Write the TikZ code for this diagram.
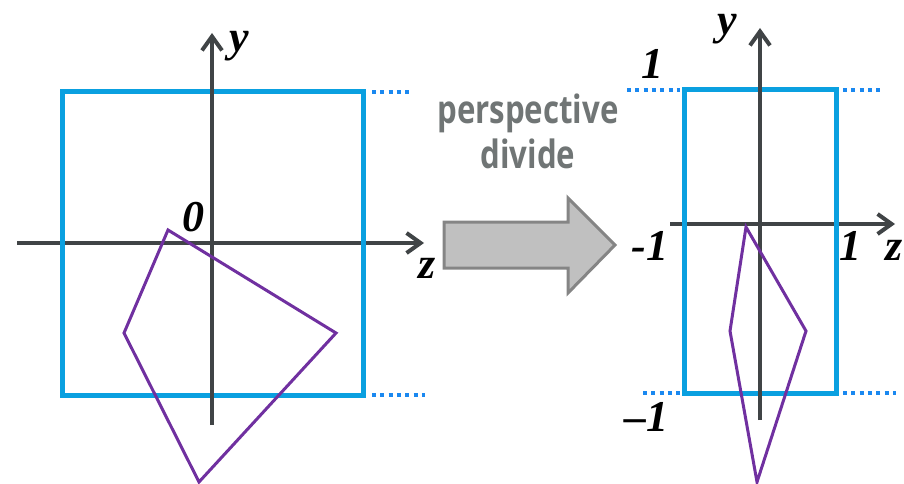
\documentclass[tikz,border=0pt]{standalone}
\usepackage{fontspec}
\setmainfont{Liberation Serif}
\newfontfamily\capfont{Open Sans}[FakeStretch=0.8]
\usetikzlibrary{arrows.meta}
\definecolor{axisgray}{HTML}{404446}
\definecolor{boxblue}{HTML}{0AA0E0}
\definecolor{dotblue}{HTML}{1A88F0}
\definecolor{quadpurple}{HTML}{7030A0}
\definecolor{capgray}{HTML}{707575}
\definecolor{arrowfill}{HTML}{C0C0C0}
\definecolor{arrowedge}{HTML}{858585}
\tikzset{
  axis/.style={draw=axisgray, line width=4pt, -{Straight Barb[length=14pt,width=20pt]}},
  clipbox/.style={draw=boxblue, line width=5pt},
  guide/.style={draw=dotblue, line width=3.5pt, dash pattern=on 4pt off 4.3pt},
  quad/.style={draw=quadpurple, line width=3pt, line join=miter},
  lab/.style={inner sep=0pt, font=\fontsize{44}{44}\selectfont\bfseries\itshape},
  blockarrow/.style={fill=arrowfill, draw=arrowedge, line width=3pt},
}
\begin{document}
\begin{tikzpicture}[x=1pt,y=-1pt]
\useasboundingbox (0,0) rectangle (904,484);
% ---------- left panel ----------
\coordinate (lzs) at (17,243);
\coordinate (lze) at (424,243);
\coordinate (lys) at (212,425);
\coordinate (lye) at (212,33);
\draw[axis] (lzs) -- (lze);
\draw[clipbox] (62,92) rectangle (363,395);
\draw[axis] (lys) -- (lye);
\coordinate (ldt1) at (372,92);
\coordinate (ldt2) at (410,92);
\coordinate (ldb1) at (372,395);
\coordinate (ldb2) at (425,395);
\draw[guide] (ldt1) -- (ldt2);
\draw[guide] (ldb1) -- (ldb2);
\coordinate (lqa) at (168,230);
\coordinate (lqb) at (336,333);
\coordinate (lqc) at (199,482);
\coordinate (lqd) at (124,333);
\draw[quad] (lqa) -- (lqb) -- (lqc) -- (lqd) -- cycle;
\node[lab] (ly) at (239,46) {y};
\node[lab] (lz) at (427,268) {z};
\node[lab] (lo) at (193,217) {0};
% ---------- arrow and caption ----------
\draw[blockarrow] (444,222) -- (568,222) -- (568,198) -- (615,245) -- (568,293) -- (568,268) -- (444,268) -- cycle;
\node[text=capgray, font=\capfont\fontsize{39}{45}\selectfont\bfseries, align=center, inner sep=0pt] (cap) at (528,131) {perspective\\divide};
% ---------- right panel ----------
\coordinate (rzs) at (670,224);
\coordinate (rze) at (895,224);
\coordinate (rys) at (760,420);
\coordinate (rye) at (760,28);
\draw[axis] (rzs) -- (rze);
\draw[clipbox] (684,90) rectangle (836,393);
\draw[axis] (rys) -- (rye);
\coordinate (rdt1) at (627,90);
\coordinate (rdt2) at (680,90);
\coordinate (rdt3) at (843,90);
\coordinate (rdt4) at (880,90);
\coordinate (rdb1) at (643,393);
\coordinate (rdb2) at (680,393);
\coordinate (rdb3) at (843,393);
\coordinate (rdb4) at (896,393);
\draw[guide] (rdt1) -- (rdt2);
\draw[guide] (rdt3) -- (rdt4);
\draw[guide] (rdb1) -- (rdb2);
\draw[guide] (rdb3) -- (rdb4);
\coordinate (rqa) at (746,227);
\coordinate (rqb) at (806,331);
\coordinate (rqc) at (757,482);
\coordinate (rqd) at (730,331);
\draw[quad] (rqa) -- (rqb) -- (rqc) -- (rqd) -- cycle;
\node[lab] (ry) at (727,29) {y};
\node[lab] (rone) at (652,64) {1};
\node[lab] (rmone) at (650,246) {-1};
\node[lab] (rpone) at (850,246) {1};
\node[lab] (rz) at (894,250) {z};
\node[lab] (rmbot) at (646,417) {–1};
\end{tikzpicture}
\end{document}
